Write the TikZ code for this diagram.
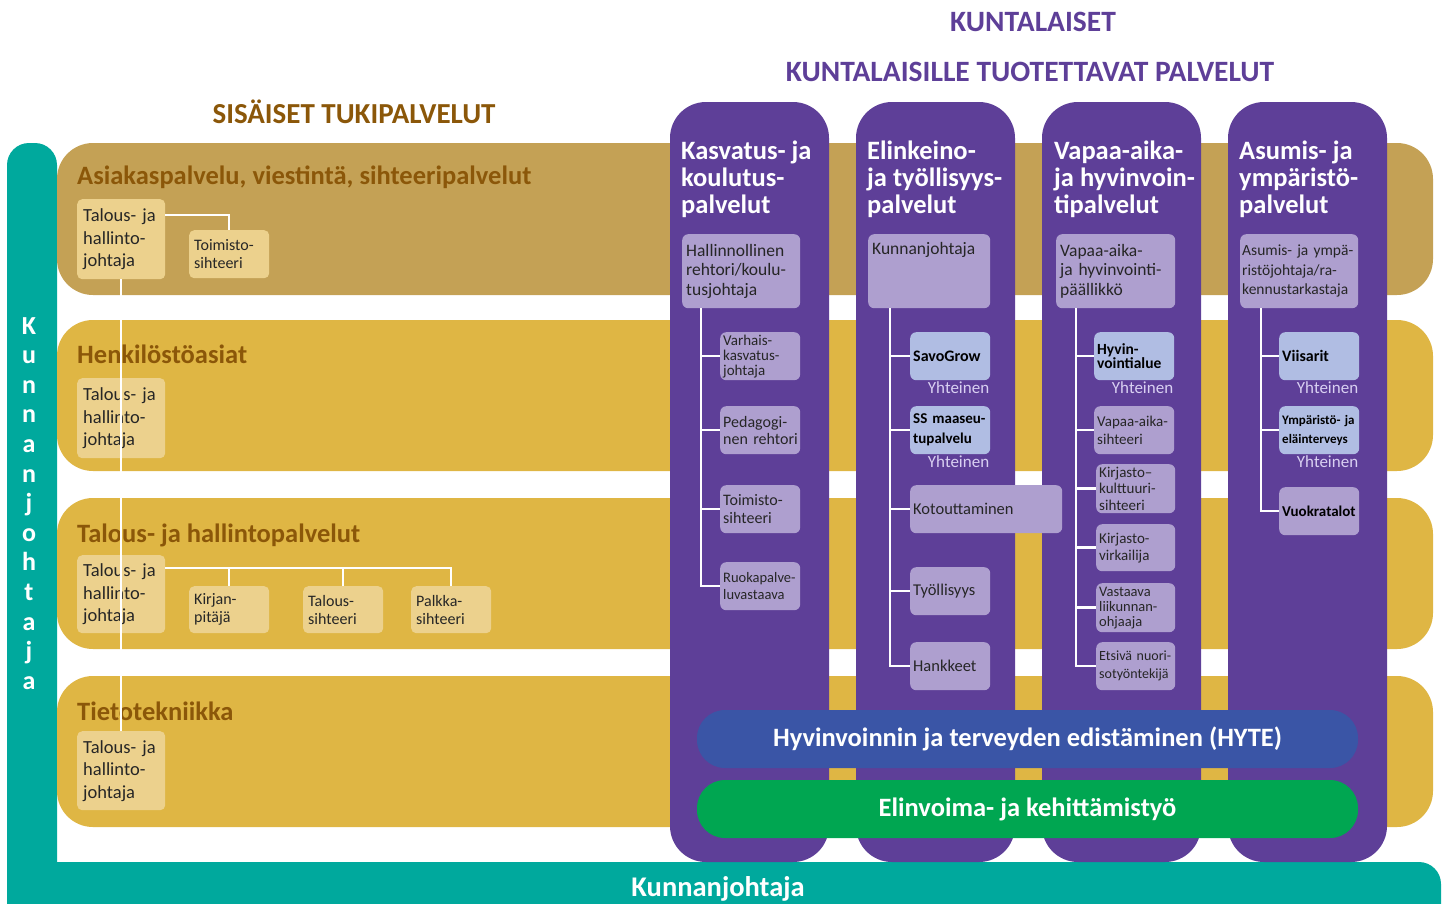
\documentclass[tikz,border=0pt]{standalone}
\usepackage{fontspec}
\setmainfont{Carlito}
\definecolor{kuntaTeal}{HTML}{00A99D}
\definecolor{bandDark}{HTML}{C4A155}
\definecolor{bandGold}{HTML}{DFB644}
\definecolor{tanBox}{HTML}{ECD18D}
\definecolor{brownText}{HTML}{8B5709}
\definecolor{palvPurple}{HTML}{5E3F98}
\definecolor{lavBox}{HTML}{AE9FCF}
\definecolor{blueBox}{HTML}{B0BDE3}
\definecolor{yhtText}{HTML}{D9D0F2}
\definecolor{hyteBlue}{HTML}{3A55A6}
\definecolor{elinGreen}{HTML}{00A651}
\definecolor{boxText}{HTML}{262626}
\newcommand{\fs}[2]{\fontsize{#1}{#2}\selectfont}
\hyphenpenalty=10000
\exhyphenpenalty=10000

\tikzset{
    band/.style={rounded corners=36pt},
    bandtitle/.style={anchor=base west, inner sep=0, text=brownText, font=\fs{26.5}{30}\bfseries},
    maintitle/.style={anchor=base, inner sep=0, font=\fs{29.5}{32}\bfseries},
    tanbox/.style={fill=tanBox, rounded corners=5pt, anchor=north west, inner xsep=6pt, inner ysep=0,
        align=left, text=boxText, text width=76pt, minimum height=80pt, font=\fs{18.5}{22.5}},
    smalltan/.style={tanbox, inner xsep=5pt, text width=70pt, minimum height=48pt, font=\fs{16}{18}},
    coltitle/.style={anchor=north west, inner sep=0, align=left, text=white, font=\fs{26.5}{27}\bfseries},
    headbox/.style={fill=lavBox, rounded corners=6pt, anchor=north west, inner xsep=4pt, inner ysep=0,
        align=left, text=boxText, text width=110pt, minimum height=74pt, font=\fs{17.5}{19.5}},
    subbox/.style={headbox, inner xsep=3pt, text width=74pt, minimum height=48pt, font=\fs{16}{17}},
    bluebox/.style={subbox, fill=blueBox, text=black, font=\fs{16}{20}\bfseries},
    yhteinen/.style={anchor=north east, inner sep=1pt, text=yhtText, font=\fs{17}{19}},
    pill/.style={minimum width=661pt, minimum height=58pt, rounded corners=28pt, inner sep=0,
        text=white, font=\fs{26.5}{28}\bfseries},
    trunk/.style={draw=white, line width=2.5pt},
}

\begin{document}
\begin{tikzpicture}[x=1pt, y=-1pt]
    \useasboundingbox (0,0) rectangle (1451,903);
    \clip (0,0) rectangle (1451,903);

    % kunnanjohtaja frame
    \fill[kuntaTeal, rounded corners=22pt] (7,143) rectangle (57,950);
    \fill[kuntaTeal, rounded corners=22pt] (7,862) rectangle (1441,950);
    \foreach \l [count=\i] in {K,u,n,n,a,n,j,o,h,t,a,j,a}
        \node[anchor=base, inner sep=0, text=white, font=\fs{26}{28}\bfseries] (kj\i) at (29,{334+29.6*(\i-1)}) {\l};
    \node[anchor=base, inner sep=0, text=white, font=\fs{28.5}{30}\bfseries] (kjBottom) at (718,896) {Kunnanjohtaja};

    % titles
    \node[maintitle, text=brownText, font=\fs{29}{32}\bfseries] (sisaiset) at (354,123) {SISÄISET TUKIPALVELUT};
    \node[maintitle, text=palvPurple] (kuntalaiset) at (1033,31) {KUNTALAISET};
    \node[maintitle, text=palvPurple] (tuotettavat) at (1030,81) {KUNTALAISILLE TUOTETTAVAT PALVELUT};

    % support bands
    \fill[bandDark, band] (57,143) rectangle (1433,295);
    \fill[bandGold, band] (57,320) rectangle (1433,471);
    \fill[bandGold, band] (57,498) rectangle (1433,649);
    \fill[bandGold, band] (57,676) rectangle (1433,827);

    \node[bandtitle] (bAsiakas) at (77,184) {Asiakaspalvelu, viestintä, sihteeripalvelut};
    \node[bandtitle] (bHenk) at (77,363) {Henkilöstöasiat};
    \node[bandtitle] (bTalous) at (77,542) {Talous- ja hallintopalvelut};
    \node[bandtitle] (bTieto) at (77,720) {Tietotekniikka};

    \node[tanbox] (tjAsiakas) at (77,199) {Talous-~ja\\hallinto-\\johtaja};
    \node[tanbox] (tjHenk) at (77,378) {Talous-~ja\\hallinto-\\johtaja};
    \node[tanbox, minimum height=78pt] (tjTalous) at (77,555) {Talous-~ja\\hallinto-\\johtaja};
    \node[tanbox, minimum height=79pt] (tjTieto) at (77,731) {Talous-~ja\\hallinto-\\johtaja};

    \node[smalltan] (toimSiht) at (189,230) {Toimisto-\\sihteeri};
    \node[smalltan, minimum height=47pt] (kirjanp) at (189,586) {Kirjan-\\pitäjä};
    \node[smalltan, minimum height=47pt] (talSiht) at (303,586) {Talous-\\sihteeri};
    \node[smalltan, minimum height=47pt] (palkka) at (411,586) {Palkka-\\sihteeri};

    \draw[trunk] (tjAsiakas.south) -- (tjTieto.north);
    \draw[trunk] (tjAsiakas.north east) ++(0,16) -| (toimSiht.north);
    \foreach \b in {kirjanp,talSiht,palkka}
        \draw[trunk] (tjTalous.north east) ++(0,13) -| (\b.north);

    % service columns
    \foreach \cx in {670,856,1042,1228}
        \fill[palvPurple, rounded corners=36pt] (\cx,102) rectangle ++(159,760);

    \node[coltitle] (tKasv) at (681,141) {Kasvatus-~ja\\koulutus-\\palvelut};
    \node[coltitle] (tElin) at (867,141) {Elinkeino-\\ja~työllisyys-\\palvelut};
    \node[coltitle] (tVapa) at (1054,141) {Vapaa-aika-\\ja~hyvinvoin-\\tipalvelut};
    \node[coltitle] (tAsum) at (1239,141) {Asumis-~ja\\ympäristö-\\palvelut};

    \node[headbox] (kasv) at (682,234) {Hallinnollinen\\rehtori/koulu-\\tusjohtaja};
    \node[headbox, text width=114pt] (elin) at (868,234) {Kunnanjohtaja\\\strut\\\strut};
    \node[headbox, text width=111pt] (vapa) at (1056,234) {Vapaa-aika-\\ja~hyvinvointi-\\päällikkö};
    \node[headbox, inner xsep=2pt, text width=114pt, font=\fs{15.5}{19.5}] (asum) at (1240,234) {Asumis-~ja~ympä-\\ristöjohtaja/ra-\\kennustarkastaja};

    % kasvatus
    \node[subbox, font=\fs{15}{15}] (varhais) at (720,332) {Varhais-\\kasvatus-\\johtaja};
    \node[subbox] (pedago) at (720,406) {Pedagogi-\\nen~rehtori};
    \node[subbox, font=\fs{16}{18}] (toimisto) at (720,485) {Toimisto-\\sihteeri};
    \node[subbox, font=\fs{14.5}{17}] (ruoka) at (720,562) {Ruokapalve-\\luvastaava};
    \foreach \b in {varhais,pedago,toimisto,ruoka}
        \draw[trunk] (kasv.south west) ++(19,0) |- (\b.west);

    % elinkeino
    \node[bluebox] (savogrow) at (910,332) {SavoGrow};
    \node[bluebox, font=\fs{15}{20}\bfseries] (maaseutu) at (910,406) {SS~maaseu-\\tupalvelu};
    \node[subbox, text width=146pt, font=\fs{16.5}{18}] (kotout) at (910,485) {Kotouttaminen};
    \node[subbox, font=\fs{16.5}{18}] (tyollis) at (910,567) {Työllisyys};
    \node[subbox, font=\fs{16.5}{18}] (hankk) at (910,642) {Hankkeet};
    \node[yhteinen] (ySavo) at (savogrow.south east) {Yhteinen};
    \node[yhteinen] (yMaas) at (maaseutu.south east) {Yhteinen};
    \foreach \b in {savogrow,maaseutu,kotout,tyollis,hankk}
        \draw[trunk] (elin.south west) ++(22,0) |- (\b.west);

    % vapaa-aika
    \node[bluebox, font=\fs{15.5}{14}\bfseries] (hyvinv) at (1094,332) {Hyvin-\\vointialue};
    \node[subbox, font=\fs{15}{18}] (vasiht) at (1094,406) {Vapaa-aika-\\sihteeri};
    \node[subbox, text width=73pt, minimum height=49pt, font=\fs{15}{16.5}] (kirkult) at (1096,464) {Kirjasto–\\kulttuuri-\\sihteeri};
    \node[subbox, text width=73pt, minimum height=47pt, font=\fs{15}{17}] (kirvirk) at (1096,524) {Kirjasto-\\virkailija};
    \node[subbox, text width=73pt, minimum height=49pt, font=\fs{14.5}{15}] (liikunta) at (1096,583) {Vastaava\\liikunnan-\\ohjaaja};
    \node[subbox, text width=73pt, font=\fs{14}{18}] (etsiva) at (1096,642) {Etsivä~nuori-\\sotyöntekijä};
    \node[yhteinen] (yHyv) at (hyvinv.south east) {Yhteinen};
    \foreach \b in {hyvinv,vasiht,kirkult,kirvirk,liikunta,etsiva}
        \draw[trunk] (vapa.south west) ++(20,0) |- (\b.west);

    % asuminen
    \node[bluebox] (viisarit) at (1279,332) {Viisarit};
    \node[bluebox, font=\fs{13}{19}\bfseries] (ymparisto) at (1279,406) {Ympäristö-~ja\\eläinterveys};
    \node[subbox, text=black, font=\fs{15}{18}\bfseries] (vuokra) at (1279,487) {Vuokratalot};
    \node[yhteinen] (yViis) at (viisarit.south east) {Yhteinen};
    \node[yhteinen] (yYmp) at (ymparisto.south east) {Yhteinen};
    \foreach \b in {viisarit,ymparisto,vuokra}
        \draw[trunk] (asum.south west) ++(21,0) |- (\b.west);

    % cross-cutting work
    \node[pill, fill=hyteBlue] (hyte) at (1027.5,739) {Hyvinvoinnin ja terveyden edistäminen (HYTE)};
    \node[pill, fill=elinGreen] (elinvoima) at (1027.5,809) {Elinvoima- ja kehittämistyö};

\end{tikzpicture}
\end{document}
